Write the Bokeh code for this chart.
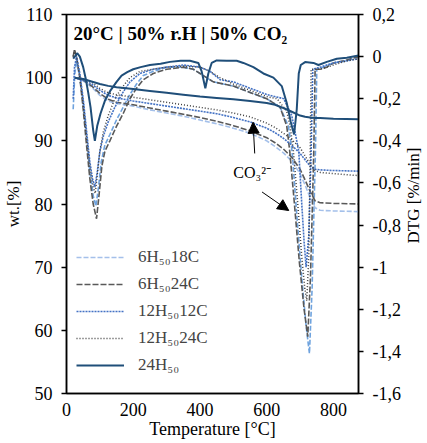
from bokeh.plotting import figure
from bokeh.models import (Range1d, LinearAxis, FixedTicker, CustomJSTickFormatter,
                          Legend, LegendItem, Label, Arrow, NormalHead)
from bokeh.embed import file_html
from bokeh.resources import INLINE
import math

# ---------------- data ----------------
series_names = ["6H₅₀18C", "6H₅₀24C", "12H₅₀12C", "12H₅₀24C", "24H₅₀"]

tg_temp = [25, 50, 75, 100, 125, 150, 200, 250, 300, 350, 400, 450, 500, 550, 600,
           625, 650, 675, 700, 715, 730, 745, 760, 800, 875]
tg_6h18 = [100, 99.5, 98.5, 97.2, 96.3, 95.9, 95.5, 94.9, 94.4, 93.9, 93.3, 92.7, 92.0, 91.2, 90.0,
           89.1, 88.1, 86.8, 84.8, 83.0, 81.0, 79.4, 79.0, 78.9, 78.8]
tg_6h24 = [100, 99.6, 98.7, 97.5, 96.6, 96.1, 95.7, 95.2, 94.7, 94.2, 93.7, 93.1, 92.4, 91.6, 90.5,
           89.7, 88.7, 87.4, 85.5, 83.8, 82.0, 80.5, 80.2, 80.1, 80.0]
tg_12h12 = [100, 99.6, 99.0, 98.0, 97.2, 96.8, 96.3, 95.9, 95.5, 95.1, 94.7, 94.3, 93.7, 93.0, 92.0,
            91.3, 90.4, 89.3, 88.0, 87.0, 86.0, 85.5, 85.4, 85.3, 85.2]
tg_12h24 = [100, 99.8, 99.3, 98.3, 97.6, 97.3, 96.9, 96.5, 96.1, 95.7, 95.3, 94.9, 94.4, 93.8, 92.8,
            92.1, 91.2, 90.2, 88.9, 87.6, 86.3, 85.3, 85.0, 84.8, 84.5]
tg_24h = [100, 99.8, 99.4, 99.0, 98.7, 98.5, 98.2, 97.9, 97.6, 97.3, 97.0, 96.8, 96.6, 96.3, 96.0,
          95.7, 95.2, 94.6, 94.0, 93.8, 93.7, 93.6, 93.6, 93.5, 93.4]

dtg_6h18_t = [20, 25, 30, 40, 50, 60, 70, 80, 88, 96, 104, 115, 130, 150, 170, 190, 210, 230, 260,
              300, 350, 380, 410, 440, 470, 500, 550, 600, 640, 665, 676, 690, 705, 718, 728,
              736, 742, 746, 750, 770, 800, 840, 875]
dtg_6h18 = [-0.25, -0.08, -0.02, -0.1, -0.22, -0.38, -0.55, -0.66, -0.71, -0.62, -0.5, -0.42, -0.37,
            -0.3, -0.24, -0.18, -0.13, -0.09, -0.07, -0.05, -0.05, -0.06, -0.09, -0.12, -0.13, -0.14,
            -0.17, -0.2, -0.24, -0.33, -0.45, -0.75, -1.05, -1.28, -1.41, -1.1, -0.7, -0.45, -0.06,
            -0.05, -0.03, -0.02, 0.0]

dtg_6h24_t = [20, 24, 30, 40, 50, 60, 70, 80, 90, 98, 106, 115, 130, 150, 170, 190, 210, 230, 260,
              300, 350, 380, 410, 440, 470, 500, 550, 600, 640, 660, 669, 683, 698, 712, 723,
              731, 737, 741, 745, 760, 780, 800, 830, 875]
dtg_6h24 = [0.0, 0.034, 0.0, -0.1, -0.25, -0.42, -0.58, -0.7, -0.77, -0.65, -0.52, -0.45, -0.4,
            -0.33, -0.27, -0.2, -0.15, -0.11, -0.08, -0.06, -0.05, -0.06, -0.09, -0.12, -0.13, -0.14,
            -0.17, -0.2, -0.24, -0.33, -0.45, -0.7, -0.98, -1.2, -1.33, -1.05, -0.7, -0.45, -0.06,
            -0.06, -0.05, -0.03, -0.02, 0.0]

dtg_12h12_t = [20, 24, 30, 40, 50, 60, 70, 78, 85, 92, 100, 110, 125, 145, 165, 190, 220, 260,
               300, 350, 400, 430, 461, 500, 550, 600, 651, 675, 685, 696, 705, 712, 718, 726,
               733, 738, 760, 800, 840, 875]
dtg_12h12 = [-0.2, -0.05, 0.0, -0.08, -0.2, -0.35, -0.5, -0.58, -0.62, -0.55, -0.45, -0.38, -0.31,
             -0.24, -0.18, -0.12, -0.08, -0.06, -0.05, -0.04, -0.05, -0.07, -0.11, -0.12, -0.15,
             -0.18, -0.2, -0.28, -0.36, -0.45, -0.7, -0.88, -1.0, -0.85, -0.45, -0.06, -0.05,
             -0.03, -0.02, -0.01]

dtg_12h24_t = [20, 23, 30, 40, 50, 60, 70, 80, 86, 93, 100, 110, 125, 145, 165, 190, 220, 260,
               300, 350, 400, 430, 460, 500, 550, 600, 631, 660, 670, 680, 692, 705, 714, 720,
               726, 730, 733, 760, 800, 840, 875]
dtg_12h24 = [0.0, 0.03, 0.0, -0.1, -0.22, -0.38, -0.52, -0.62, -0.65, -0.55, -0.45, -0.36, -0.28,
             -0.2, -0.15, -0.1, -0.07, -0.06, -0.05, -0.045, -0.05, -0.07, -0.1, -0.13, -0.16, -0.19,
             -0.2, -0.26, -0.33, -0.45, -0.68, -0.95, -1.1, -1.16, -0.95, -0.5, -0.06, -0.06, -0.04,
             -0.02, -0.01]

dtg_24h_t = [20, 27, 32, 40, 50, 57, 65, 72, 80, 85, 92, 102, 115, 132, 150, 165, 182, 200, 222,
             250, 282, 310, 342, 370, 395, 405, 416, 425, 435, 450, 480, 510, 530, 560, 590, 620,
             645, 660, 672, 682, 690, 696, 702, 715, 740, 755, 780, 810, 840, 875]
dtg_24h = [-0.01, 0.005, 0.016, 0.0, -0.05, -0.1, -0.17, -0.24, -0.35, -0.4, -0.33, -0.27, -0.21,
           -0.16, -0.12, -0.09, -0.074, -0.06, -0.05, -0.04, -0.034, -0.025, -0.02, -0.02, -0.03,
           -0.07, -0.15, -0.08, -0.03, -0.018, -0.02, -0.02, -0.03, -0.05, -0.08, -0.1, -0.14,
           -0.22, -0.31, -0.37, -0.25, -0.08, -0.04, -0.026, -0.03, -0.04, -0.025, -0.01, -0.005,
           0.005]

x_ticks = [0, 200, 400, 600, 800]
wt_ticks = [50, 60, 70, 80, 90, 100, 110]
dtg_ticks = [0.2, 0.0, -0.2, -0.4, -0.6, -0.8, -1.0, -1.2, -1.4, -1.6]

# annotation (arrows for CO3 2- peak), in data units of T / wt
arrow1 = (564, 88.0, 559, 92.95)
arrow2 = (586, 81.9, 666, 78.97)
co3_pos = (500, 85.0)

# ---------------- styling ----------------
FONT = "Liberation Serif"
colors = ["#A4C0EA", "#595959", "#4472C4", "#3F3F3F", "#1F4E79"]
dtg_colors = ["#6FA3DE", "#595959", "#4472C4", "#3F3F3F", "#1F4E79"]
dashes = ["5 2", "6 2", "2 1", "1 2", "solid"]
widths = [1.6, 1.6, 1.6, 1.5, 2.0]

p = figure(width=427, height=443, output_backend="svg", toolbar_location=None,
           x_range=Range1d(0, 875), y_range=Range1d(50, 110),
           min_border_left=66, min_border_right=69, min_border_top=14, min_border_bottom=50)
p.extra_y_ranges = {"dtg": Range1d(-1.6, 0.2)}
p.xgrid.visible = False
p.ygrid.visible = False
p.background_fill_color = "white"
p.border_fill_color = "white"
p.outline_line_color = "black"
p.outline_line_width = 1.5

def style_axis(ax):
    ax.axis_line_color = "black"
    ax.axis_line_width = 1.5
    ax.major_tick_line_color = "black"
    ax.major_tick_line_width = 1.5
    ax.major_tick_in = 0
    ax.major_tick_out = 5
    ax.minor_tick_line_color = None
    ax.major_label_text_font = FONT
    ax.major_label_text_font_size = "18px"
    ax.major_label_text_color = "black"
    ax.axis_label_text_font = FONT
    ax.axis_label_text_font_style = "normal"
    ax.axis_label_text_color = "black"

xa = p.xaxis[0]
style_axis(xa)
xa.ticker = FixedTicker(ticks=x_ticks)
xa.major_tick_out = 0
xa.major_label_standoff = 9
xa.axis_label = "Temperature [°C]"
xa.axis_label_text_font_size = "18px"
xa.axis_label_standoff = 0

ya = p.yaxis[0]
style_axis(ya)
ya.ticker = FixedTicker(ticks=wt_ticks)
ya.major_label_standoff = 9
ya.axis_label = "wt.[%]"
ya.axis_label_text_font_size = "17px"
ya.axis_label_standoff = 0

right = LinearAxis(y_range_name="dtg")
style_axis(right)
right.ticker = FixedTicker(ticks=dtg_ticks)
right.major_label_standoff = 9
right.formatter = CustomJSTickFormatter(
    code="var s = tick.toFixed(1).replace('.', ','); if (s.endsWith(',0')) s = s.slice(0, -2); if (s == '-0') s = '0'; return s;")
p.add_layout(right, "right")

# right axis title, reading bottom-to-top, placed in the right side panel
p.add_layout(Label(x=10, y=198, x_units="screen", y_units="screen", text="DTG [%/min]",
                   text_font=FONT, text_font_size="17px", text_align="center",
                   text_baseline="middle", angle=math.pi / 2, text_color="black"), "right")

tg_series = [tg_6h18, tg_6h24, tg_12h12, tg_12h24, tg_24h]
dtg_series = [(dtg_6h18_t, dtg_6h18), (dtg_6h24_t, dtg_6h24), (dtg_12h12_t, dtg_12h12),
              (dtg_12h24_t, dtg_12h24), (dtg_24h_t, dtg_24h)]

items = []
for i, name in enumerate(series_names):
    dt, dv = dtg_series[i]
    p.line(dt, dv, y_range_name="dtg", line_color=dtg_colors[i], line_dash=dashes[i],
           line_width=widths[i])
    r = p.line(tg_temp, tg_series[i], line_color=colors[i], line_dash=dashes[i],
               line_width=widths[i])
    items.append(LegendItem(label=name, renderers=[r]))

legend = Legend(items=items, location=(10, 18), orientation="vertical",
                glyph_width=48, glyph_height=20, label_height=20, spacing=7,
                label_standoff=14, padding=0, margin=0,
                label_text_font=FONT, label_text_font_size="17px",
                border_line_alpha=0, background_fill_alpha=0)
p.add_layout(legend, "center")

# title text inside
p.add_layout(Label(x=7, y=371, x_units="screen", y_units="screen",
                   text="20°C | 50% r.H | 50% CO₂", text_font=FONT, text_font_style="bold",
                   text_font_size="19px", text_baseline="top", text_color="black"))

# CO3 annotation
p.add_layout(Label(x=co3_pos[0], y=co3_pos[1], text="CO₃²⁻", text_font=FONT,
                   text_font_size="16px", text_baseline="alphabetic", text_color="black"))
for a in (arrow1, arrow2):
    p.add_layout(Arrow(x_start=a[0], y_start=a[1], x_end=a[2], y_end=a[3],
                       line_color="black", line_width=1,
                       end=NormalHead(size=11, fill_color="black", line_color="black")))

open("out.html", "w").write(file_html(p, INLINE))
